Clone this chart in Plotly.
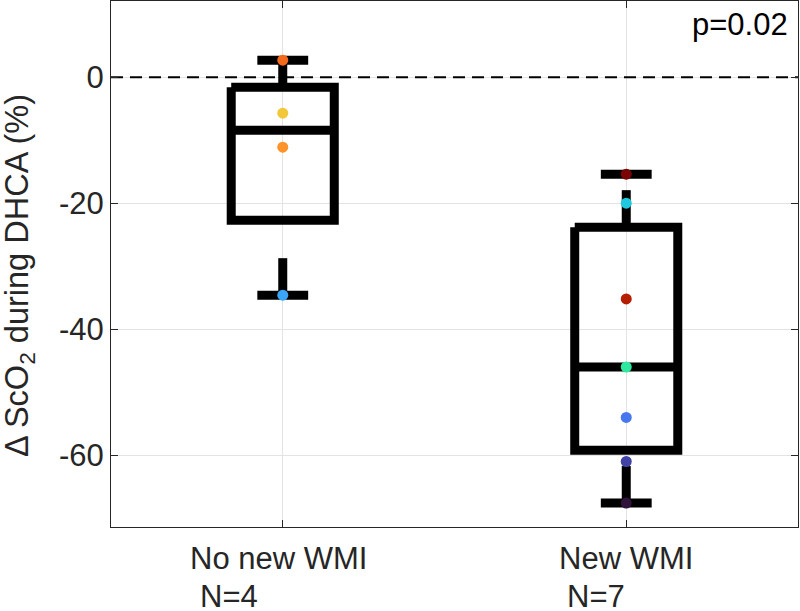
import plotly.graph_objects as go

# ---- data ----
categories = ["No new WMI", "New WMI"]
n_labels = ["N=4", "N=7"]
positions = [1, 2]

group1_values = [2.7, -5.7, -11.1, -34.6]
group1_colors = ["#f56a1a", "#f2c73a", "#fd9329", "#3aa5f8"]
group2_values = [-15.4, -20.0, -35.2, -46.0, -54.0, -61.0, -67.6]
group2_colors = ["#7a0403", "#1fc8de", "#b61e02", "#2fe8a0", "#4777ef", "#4143a7", "#30123b"]

# box statistics (as drawn in the reference)
upper_adj = [2.7, -15.4]
q3 = [-1.6, -23.8]
median = [-8.4, -46.0]
q1 = [-22.7, -59.2]
lower_adj = [-34.6, -67.6]

y_ticks = [-60, -40, -20, 0]
y_ticklabels = ["-60", "-40", "-20", "0"]
p_text = "p=0.02"

# ---- styling ----
BOX_HALF = 0.15
CAP_HALF = 0.074
LW = 9
FONT = "Liberation Sans, Arial, Helvetica, sans-serif"

fig = go.Figure()

# zero reference line
fig.add_trace(go.Scatter(x=[0.5, 2.5], y=[0, 0], mode="lines",
                         line=dict(color="black", width=2, dash="12px,7px"),
                         hoverinfo="skip", showlegend=False))

for i, c in enumerate(positions):
    # whiskers (dashed like MATLAB's default)
    fig.add_trace(go.Scatter(x=[c, c], y=[q3[i], upper_adj[i]], mode="lines",
                             line=dict(color="black", width=LW, dash="37px,60px"),
                             hoverinfo="skip", showlegend=False))
    fig.add_trace(go.Scatter(x=[c, c], y=[lower_adj[i], q1[i]], mode="lines",
                             line=dict(color="black", width=LW, dash="37px,60px"),
                             hoverinfo="skip", showlegend=False))
    # caps
    for v in (upper_adj[i], lower_adj[i]):
        fig.add_trace(go.Scatter(x=[c - CAP_HALF, c + CAP_HALF], y=[v, v], mode="lines",
                                 line=dict(color="black", width=LW),
                                 hoverinfo="skip", showlegend=False))
    # box
    fig.add_trace(go.Scatter(
        x=[c - BOX_HALF, c + BOX_HALF, c + BOX_HALF, c - BOX_HALF, c - BOX_HALF],
        y=[q3[i], q3[i], q1[i], q1[i], q3[i]], mode="lines",
        line=dict(color="black", width=LW), hoverinfo="skip", showlegend=False))
    # median
    fig.add_trace(go.Scatter(x=[c - BOX_HALF, c + BOX_HALF], y=[median[i], median[i]],
                             mode="lines", line=dict(color="black", width=LW),
                             hoverinfo="skip", showlegend=False))

# data points
fig.add_trace(go.Scatter(x=[positions[0]] * len(group1_values), y=group1_values,
                         mode="markers", marker=dict(size=11, color=group1_colors),
                         showlegend=False))
fig.add_trace(go.Scatter(x=[positions[1]] * len(group2_values), y=group2_values,
                         mode="markers", marker=dict(size=11, color=group2_colors),
                         showlegend=False))

annotations = []
cat_shift = [-4, 0]
for c, lab, sh in zip(positions, categories, cat_shift):
    annotations.append(dict(x=c, y=0, xref="x", yref="paper", text=lab, showarrow=False,
                            xanchor="center", yanchor="top", yshift=-12, xshift=sh,
                            font=dict(family=FONT, size=31, color="#262626")))
n_x = [0.753, 1.822]
for xv, lab in zip(n_x, n_labels):
    annotations.append(dict(x=xv, y=0, xref="x", yref="paper", text=lab, showarrow=False,
                            xanchor="left", yanchor="top", yshift=-50,
                            font=dict(family=FONT, size=31, color="#262626")))
annotations.append(dict(x=1, y=1, xref="paper", yref="paper", text=p_text, showarrow=False,
                        xanchor="right", yanchor="top", xshift=-8, yshift=-4,
                        font=dict(family=FONT, size=31, color="black")))
annotations.append(dict(x=(19 - 111) / 687, y=(527 - 276) / 526, xref="paper", yref="paper",
                        text="\u0394 ScO<sub>2</sub> during DHCA (%)", showarrow=False,
                        textangle=-90, xanchor="center", yanchor="middle",
                        font=dict(family=FONT, size=32.5, color="#262626")))

fig.update_layout(
    width=800, height=611,
    margin=dict(l=111, r=2, t=1, b=84),
    plot_bgcolor="white", paper_bgcolor="white",
    font=dict(family=FONT, size=30, color="#262626"),
    annotations=annotations,
    xaxis=dict(range=[0.5, 2.5], tickvals=positions, ticktext=["", ""],
               showgrid=True, gridcolor="#e3e3e3", gridwidth=1,
               showline=True, linecolor="#262626", linewidth=1, mirror="ticks",
               ticks="inside", ticklen=7, tickcolor="#262626", zeroline=False),
    yaxis=dict(range=[-71.4, 12.1], tickvals=y_ticks, ticktext=y_ticklabels,
               showgrid=True, gridcolor="#e3e3e3", gridwidth=1,
               showline=True, linecolor="#262626", linewidth=1, mirror="ticks",
               ticks="inside", ticklen=7, tickcolor="#262626", zeroline=False,
               tickfont=dict(family=FONT, size=31, color="#262626")),
)

fig.write_html("out.html", config={"displayModeBar": False},
               post_script="document.body.style.margin='0';document.body.style.overflow='hidden';")
